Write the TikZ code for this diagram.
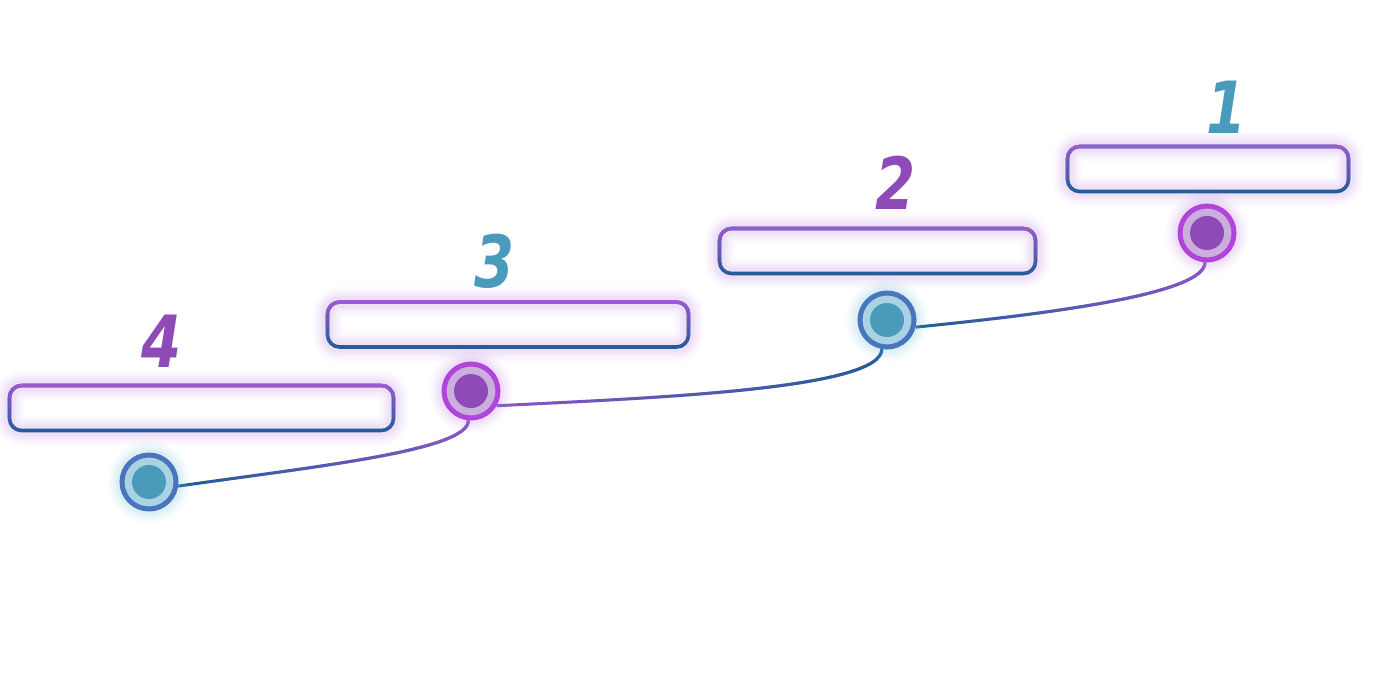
\documentclass[tikz,border=0pt]{standalone}
\usepackage{fontspec}
\usetikzlibrary{fadings,backgrounds}
\newfontfamily\numfont{DejaVu Sans}[FakeStretch=0.8]
\definecolor{boxpurple}{RGB}{162,88,210}
\definecolor{boxblue}{RGB}{30,94,152}
\definecolor{glowP}{RGB}{185,130,222}
\definecolor{glowB}{RGB}{110,195,212}
\definecolor{ringP}{RGB}{178,68,219}
\definecolor{fillP}{RGB}{203,174,220}
\definecolor{dotP}{RGB}{142,75,184}
\definecolor{ringB}{RGB}{74,116,190}
\definecolor{fillB}{RGB}{169,211,226}
\definecolor{dotB}{RGB}{74,155,187}
\definecolor{lineP}{RGB}{140,85,200}
\tikzfading[name=fadeDown, top color=transparent!0, bottom color=transparent!100]
\tikzfading[name=fadeLR, left color=transparent!100, right color=transparent!0]
\tikzset{
  glowP/.style={
    preaction={draw=glowP, line width=15pt, opacity=0.04},
    preaction={draw=glowP, line width=12pt, opacity=0.06},
    preaction={draw=glowP, line width=9pt, opacity=0.08},
    preaction={draw=glowP, line width=6pt, opacity=0.10}},
  glowB/.style={
    preaction={draw=glowB, line width=15pt, opacity=0.04},
    preaction={draw=glowB, line width=12pt, opacity=0.06},
    preaction={draw=glowB, line width=9pt, opacity=0.08},
    preaction={draw=glowB, line width=6pt, opacity=0.10}},
  box/.style={rectangle, rounded corners=6pt, draw=boxblue, line width=1.8pt,
    minimum height=22.5pt, inner sep=0pt, glowP,
    postaction={draw=boxpurple, line width=1.8pt, path fading=fadeDown}},
  pdot/.style={circle, minimum size=27pt, inner sep=0pt, line width=2.5pt,
    draw=ringP, fill=fillP, glowP,
    path picture={\fill[dotP] (path picture bounding box.center) circle (8.5pt);}},
  bdot/.style={circle, minimum size=27pt, inner sep=0pt, line width=2.5pt,
    draw=ringB, fill=fillB, glowB,
    path picture={\fill[dotB] (path picture bounding box.center) circle (8.5pt);}},
  num/.style={font=\numfont\bfseries\itshape\fontsize{36pt}{36pt}\selectfont, inner sep=0pt},
  conn/.style={line width=1.5pt}
}
\begin{document}
\begin{tikzpicture}[x=0.5pt,y=-0.5pt]
\useasboundingbox (0,0) rectangle (1400,700);
% boxes
\node[box, minimum width=140.5pt] (b1) at (1208,169) {};
\node[box, minimum width=158pt] (b2) at (877.5,251) {};
\node[box, minimum width=180.5pt] (b3) at (508,324.5) {};
\node[box, minimum width=192pt] (b4) at (201.5,408) {};
% numbers
\node[num, text=dotB] (n1) at (1227,107) {1};
\node[num, text=dotP] (n2) at (896,183) {2};
\node[num, text=dotB] (n3) at (495,261) {3};
\node[num, text=dotP] (n4) at (162,341) {4};
% dots
\node[pdot] (c1) at (1207,233) {};
\node[bdot] (c2) at (887,320) {};
\node[pdot] (c3) at (471,391) {};
\node[bdot] (c4) at (149,482) {};
% connectors
\begin{pgfonlayer}{background}
\draw[conn, draw=boxblue] (c4.-8) .. controls +(140,-20) and +(0,30) .. (c3.-95);
\draw[conn, draw=lineP, path fading=fadeLR] (c4.-8) .. controls +(140,-20) and +(0,30) .. (c3.-95);
\draw[conn, draw=lineP] (c3.-30) .. controls +(160,-8) and +(0,40) .. (c2.-100);
\draw[conn, draw=boxblue, path fading=fadeLR] (c3.-30) .. controls +(160,-8) and +(0,40) .. (c2.-100);
\draw[conn, draw=boxblue] (c2.-14) .. controls +(150,-15) and +(0,30) .. (c1.-94);
\draw[conn, draw=lineP, path fading=fadeLR] (c2.-14) .. controls +(150,-15) and +(0,30) .. (c1.-94);
\end{pgfonlayer}
\end{tikzpicture}
\end{document}
